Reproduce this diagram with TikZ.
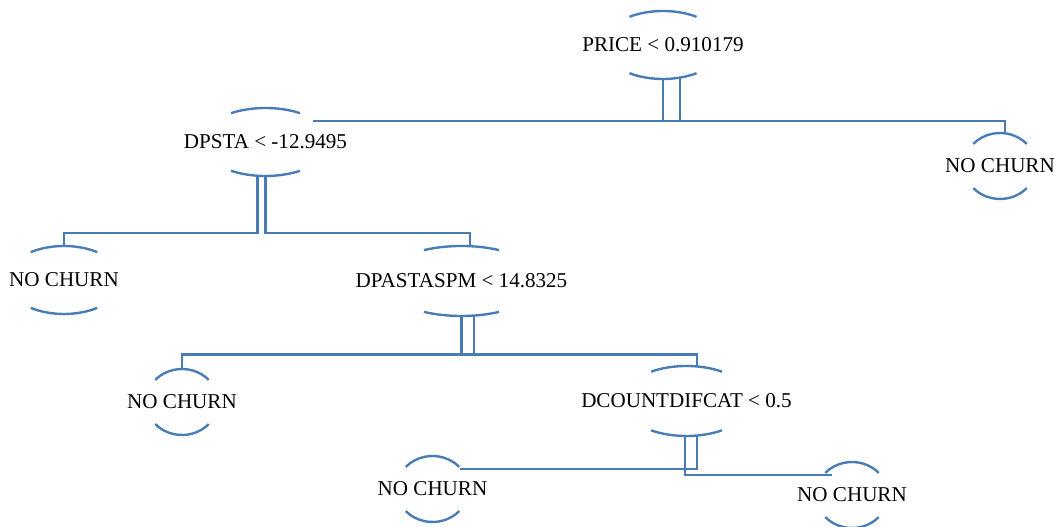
\documentclass[tikz,border=0pt]{standalone}
\usepackage{fontspec}
\setmainfont{Liberation Serif}
\usepackage{tikz}
\definecolor{rimblue}{RGB}{72,124,182}

\begin{document}
\begin{tikzpicture}[
	split/.style={font=\fontsize{12}{14}\selectfont, inner sep=1pt},
	rim/.style={draw=rimblue, line width=1.35pt},
	link/.style={draw=rimblue, line width=1.35pt}]
	\useasboundingbox (0,0) rectangle (21.22,10.54);
	\node[split] (price) at (13.26,9.64) {PRICE < 0.910179};
	\node[split] (dpsta) at (5.31,7.70) {DPSTA < -12.9495};
	\node[split] (churnA) at (20.00,7.22) {NO CHURN};
	\node[split] (churnB) at (1.28,4.94) {NO CHURN};
	\node[split] (dpasta) at (9.23,4.92) {DPASTASPM < 14.8325};
	\node[split] (churnC) at (3.64,2.50) {NO CHURN};
	\node[split] (dcount) at (13.73,2.52) {DCOUNTDIFCAT < 0.5};
	\node[split] (churnD) at (8.65,0.76) {NO CHURN};
	\node[split] (churnE) at (17.04,0.64) {NO CHURN};
	\foreach \n/\rx/\ry/\a in {price/1.20/0.68/56, dpsta/1.30/0.68/58, dpasta/1.60/0.70/62, dcount/1.30/0.70/57, churnB/1.16/0.68/55, churnA/0.72/0.66/42, churnC/0.72/0.66/42, churnD/0.72/0.66/42, churnE/0.72/0.66/42}
		\draw[rim] (\n.center) ++(\a:\rx cm and \ry cm) arc[start angle=\a, end angle={180-\a}, x radius=\rx cm, y radius=\ry cm]
			(\n.center) ++(-\a:\rx cm and \ry cm) arc[start angle=-\a, end angle={-180+\a}, x radius=\rx cm, y radius=\ry cm];
	\coordinate (dpsta-in) at ([xshift=0.95cm,yshift=0.42cm]dpsta.center);
	\draw[link] ([xshift=0.34cm,yshift=-0.66cm]price.center) |- (dpsta-in);
	\draw[link] ([yshift=-0.68cm]price.center) |- ([xshift=0.10cm,yshift=0.90cm]churnA.center) -- ([xshift=0.10cm,yshift=0.65cm]churnA.center);
	\draw[link] ([xshift=-0.16cm,yshift=-0.67cm]dpsta.center) |- ([yshift=0.94cm]churnB.center) -- ([yshift=0.68cm]churnB.center);
	\draw[link] ([yshift=-0.68cm]dpsta.center) |- ([xshift=0.17cm,yshift=0.96cm]dpasta.center) -- ([xshift=0.17cm,yshift=0.69cm]dpasta.center);
	\draw[link] ([xshift=0.25cm,yshift=-0.69cm]dpasta.center) |- ([yshift=0.95cm]churnC.center) -- ([yshift=0.66cm]churnC.center);
	\draw[link] ([yshift=-0.70cm]dpasta.center) |- ([xshift=0.21cm,yshift=0.93cm]dcount.center) -- ([xshift=0.21cm,yshift=0.69cm]dcount.center);
	\draw[link] ([xshift=0.21cm,yshift=-0.69cm]dcount.center) |- ([xshift=0.55cm,yshift=0.40cm]churnD.center);
	\draw[link] ([xshift=-0.03cm,yshift=-0.70cm]dcount.center) |- ([xshift=-0.40cm,yshift=0.40cm]churnE.center);
\end{tikzpicture}
\end{document}
